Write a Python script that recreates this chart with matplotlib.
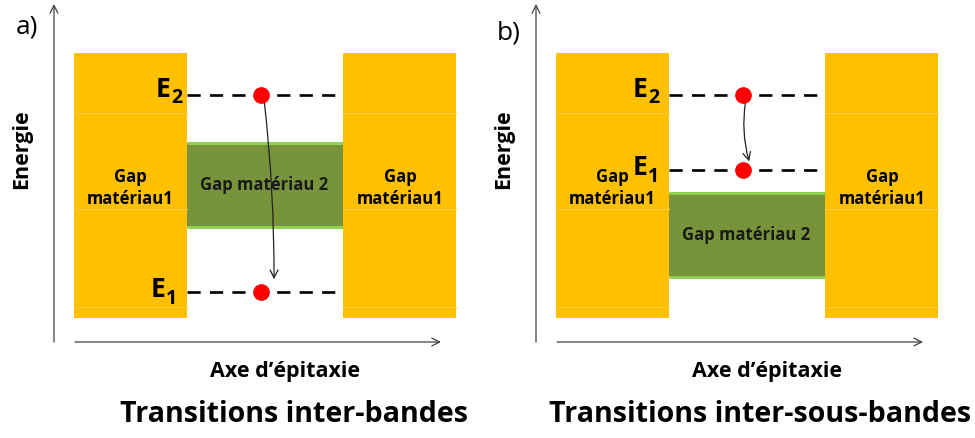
import matplotlib
matplotlib.use('Agg')
import matplotlib.pyplot as plt
from matplotlib.patches import Rectangle, FancyArrowPatch

plt.rcParams['font.family'] = ['Open Sans', 'DejaVu Sans']

# --- Données du schéma (coordonnées en pixels, origine en haut à gauche) ---
panneaux = ['a)', 'b)']
panneau_y = [27, 33]
titres = ['Transitions inter-bandes', 'Transitions inter-sous-bandes']
decalage = [0, 482]                 # décalage horizontal de chaque panneau
niveau_E2 = [95, 95]                # hauteur du niveau E2
niveau_E1 = [292, 170]              # hauteur du niveau E1
gap2_haut = [143, 193]              # haut du gap du matériau 2
gap2_bas = [227, 277]               # bas du gap du matériau 2
fleche_fin = [(274, 282), (750, 164)]
fleche_courbe = [-0.03, 0.12]
etiq_E2_x = [170, 647]
etiq_E1_x = [165, 647]
titre_x = [294, 760]

JAUNE = '#FFC000'
VERT = '#77933C'
VERT_CLAIR = '#92D050'
ROUGE = '#FF0000'

fig = plt.figure(figsize=(9.75, 4.38), dpi=100)
ax = fig.add_axes([0, 0, 1, 1])
ax.set_xlim(0, 975)
ax.set_ylim(438, 0)
ax.axis('off')

for i, nom in enumerate(panneaux):
    dx = decalage[i]

    # axes avec flèches
    ax.annotate('', xy=(54 + dx, 4), xytext=(54 + dx, 342),
                arrowprops=dict(arrowstyle='->', color='#404040', lw=0.9,
                                mutation_scale=14, shrinkA=0, shrinkB=0))
    ax.annotate('', xy=(441 + dx, 342), xytext=(75 + dx, 342),
                arrowprops=dict(arrowstyle='->', color='#404040', lw=0.9,
                                mutation_scale=14, shrinkA=0, shrinkB=0))

    # gaps du matériau 1
    for x0 in (74, 343):
        ax.add_patch(Rectangle((x0 + dx, 53), 113, 265, facecolor=JAUNE,
                               edgecolor='none', zorder=1))
        for yl in (113, 209, 307):
            ax.plot([x0 + dx, x0 + dx + 113], [yl, yl], color='#FFCB40',
                    lw=0.8, zorder=1.5)

    # gap du matériau 2
    ax.add_patch(Rectangle((187 + dx, gap2_haut[i]), 156,
                           gap2_bas[i] - gap2_haut[i], facecolor=VERT,
                           edgecolor='none', zorder=1))
    for yb in (gap2_haut[i], gap2_bas[i]):
        ax.plot([187 + dx, 343 + dx], [yb, yb], color=VERT_CLAIR, lw=2.2,
                solid_capstyle='butt', zorder=1.2)

    # niveaux d'énergie
    for y in (niveau_E2[i], niveau_E1[i]):
        ax.plot([187 + dx, 343 + dx], [y, y], color='black', lw=1.9,
                dashes=(5, 3.5), zorder=2)
        ax.plot(261 + dx, y, 'o', color=ROUGE, ms=11, zorder=4)

    # transition
    fleche = FancyArrowPatch((264 + dx, niveau_E2[i] + 4), fleche_fin[i],
                             connectionstyle=f'arc3,rad={fleche_courbe[i]}',
                             arrowstyle='->', mutation_scale=14, color='#222222',
                             lw=0.9, zorder=3)
    ax.add_patch(fleche)

    # étiquettes E2 / E1
    ax.text(etiq_E2_x[i], niveau_E2[i] + 2, 'E', ha='right', va='baseline',
            fontsize=19, fontweight='bold', zorder=5)
    ax.text(etiq_E2_x[i] + 1, niveau_E2[i] + 8, '2', ha='left', va='baseline',
            fontsize=14, fontweight='bold', zorder=5)
    ax.text(etiq_E1_x[i], niveau_E1[i] + 5, 'E', ha='right', va='baseline',
            fontsize=19, fontweight='bold', zorder=5)
    ax.text(etiq_E1_x[i] + 1, niveau_E1[i] + 12, '1', ha='left', va='baseline',
            fontsize=14, fontweight='bold', zorder=5)

    # textes des gaps
    for xc in (130, 400):
        ax.text(xc + dx, 188, 'Gap\nmatériau1', ha='center', va='center',
                fontsize=12, fontweight='bold', linespacing=1.3, zorder=5)
    ax.text(264 + dx, (gap2_haut[i] + gap2_bas[i]) / 2, 'Gap matériau 2',
            ha='center', va='center', fontsize=12, fontweight='bold',
            color='#1a1a1a', zorder=5)

    # légendes des axes et titres
    ax.text(22 + dx, 149, 'Energie', rotation=90, ha='center', va='center',
            fontsize=15.5, fontweight='bold')
    ax.text(285 + dx, 372, 'Axe d\u2019épitaxie', ha='center', va='center',
            fontsize=15.5, fontweight='bold')
    ax.text(27 + dx, panneau_y[i], nom, ha='center', va='center', fontsize=19)
    ax.text(titre_x[i], 414, titres[i], ha='center', va='center', fontsize=20.6,
            fontweight='bold')

fig.savefig('out.png', dpi=100)
